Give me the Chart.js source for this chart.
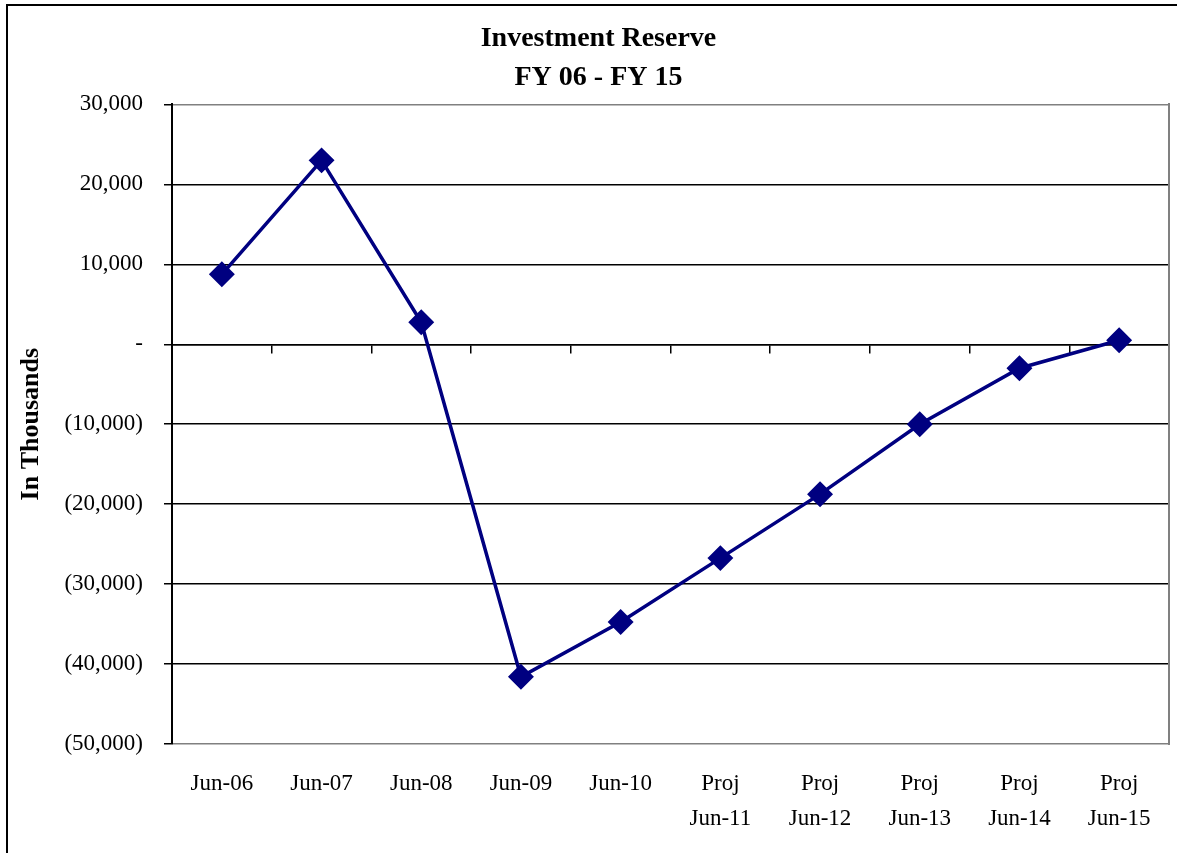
<!DOCTYPE html>
<html>
<head>
<meta charset="utf-8">
<script src="https://cdn.jsdelivr.net/npm/chart.js@4/dist/chart.umd.min.js"></script>
<style>
  body { margin: 0; overflow: hidden; background: #fff; }
  #frame { position: absolute; left: 6px; top: 4px; width: 1200px; height: 900px; border: 2px solid #000; }
  #wrap { position: absolute; left: 0; top: 0; width: 1183px; height: 853px; }
</style>
</head>
<body>
<div id="frame"></div>
<div id="wrap"><canvas id="canvas"></canvas></div>
<script>
  // chart data
  var categories = ['Jun-06', 'Jun-07', 'Jun-08', 'Jun-09', 'Jun-10',
                    ['Proj', 'Jun-11'], ['Proj', 'Jun-12'], ['Proj', 'Jun-13'], ['Proj', 'Jun-14'], ['Proj', 'Jun-15']];
  var reserve = [8750, 23000, 2750, -41600, -34750, -26750, -18750, -10000, -3000, 500];
  var yMin = -50000;
  var yMax = 30000;
  var yStep = 10000;

  var serif = "'Liberation Serif', 'DejaVu Serif', serif";

  //format like the excel accounting style
  function fmtTick(v)
  {
    if (v == 0) return '-';
    var s = Math.abs(v).toLocaleString('en-US');
    return v < 0 ? '(' + s + ')' : s;
  }

  var ctx = document.getElementById('canvas').getContext('2d');
  window.myLine = new Chart(ctx, {
    type: 'line',
    data: {
      labels: categories,
      datasets: [
        {
          label: 'Investment Reserve',
          data: reserve,
          borderColor: '#000080',
          backgroundColor: '#000080',
          borderWidth: 3.5,
          pointStyle: 'rectRot',
          pointRadius: 10.5,
          pointHoverRadius: 10.5,
          tension: 0
        }
      ]
    },
    options: {
      responsive: true,
      maintainAspectRatio: false,
      animation: false,
      layout: { padding: { left: 14, right: 0, top: 16, bottom: 2 } },
      plugins: {
        legend: { display: false },
        tooltip: { enabled: false },
        title: {
          display: true,
          text: ['Investment Reserve', 'FY 06 - FY 15'],
          color: '#000',
          font: { family: serif, size: 28, weight: 'bold', lineHeight: 1.4 },
          padding: { top: 3, bottom: 7 }
        }
      },
      scales: {
        x: {
          type: 'category',
          offset: true,
          grid: { display: false },
          border: { display: false },
          ticks: {
            color: '#000',
            font: { family: serif, size: 23, lineHeight: 1.5 },
            padding: 15,
            maxRotation: 0,
            autoSkip: false
          }
        },
        x2: {
          //second axis sitting on the zero line, only for the tick marks
          type: 'category',
          labels: categories,
          position: { y: 0 },
          offset: true,
          grid: { drawOnChartArea: false, offset: true, tickLength: 8, color: '#000', lineWidth: 1.5 },
          border: { display: true, color: '#000', width: 1.5 },
          ticks: { display: false },
          afterFit: function(s) { s.height = 0; }
        },
        y: {
          min: yMin,
          max: yMax,
          afterFit: function(s) { s.width = 158; },
          ticks: {
            stepSize: yStep,
            color: '#000',
            font: { family: serif, size: 23 },
            padding: 21,
            callback: function(v) { return fmtTick(v); }
          },
          grid: {
            color: function(c) {
              //top and bottom edge of the plot area are grey
              if (c.tick && (c.tick.value == yMax || c.tick.value == yMin)) return '#808080';
              return '#000';
            },
            tickColor: '#000',
            lineWidth: 1.5,
            tickLength: 8
          },
          border: { color: '#000', width: 2 },
          title: {
            display: true,
            text: 'In Thousands',
            color: '#000',
            font: { family: serif, size: 26, weight: 'bold' },
            padding: { top: 2, bottom: 17 }
          }
        },
        y2: {
          position: 'right',
          min: yMin,
          max: yMax,
          afterFit: function(s) { s.width = 2; },
          ticks: { display: false },
          grid: { drawOnChartArea: false, tickLength: 0 },
          border: { color: '#808080', width: 2 }
        }
      }
    }
  });
</script>
</body>
</html>
